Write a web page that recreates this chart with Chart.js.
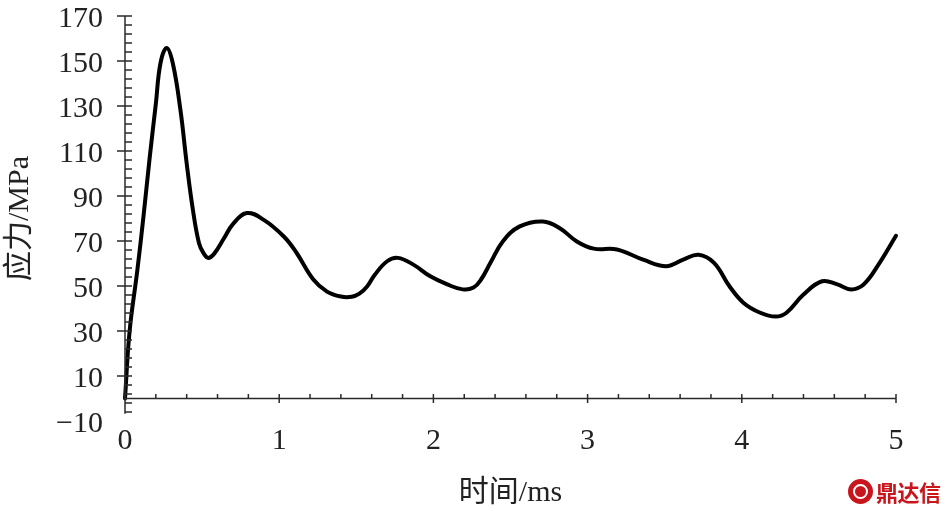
<!DOCTYPE html>
<html>
<head>
<meta charset="utf-8">
<script src="https://cdn.jsdelivr.net/npm/chart.js@4.4.1/dist/chart.umd.min.js"></script>
<style>
  html, body { margin: 0; padding: 0; background: #fff; }
  #wrap { position: relative; width: 950px; height: 511px; }
  #c { position: absolute; left: 0; top: 0; }
  #mark { position: absolute; left: 848px; top: 478px; height: 26px; display: flex; align-items: center; }
  #logo { width: 25px; height: 25px; border-radius: 50%; background: #c9161d; position: relative; margin-right: 3px; }
  #logo::after { content: ""; position: absolute; left: 5px; top: 5px; width: 11px; height: 11px; border: 2px solid #fff; border-radius: 50%; }
  #mtext { font-family: "Noto Sans CJK SC", sans-serif; font-weight: 700; font-size: 22px; color: #c9161d; line-height: 26px; letter-spacing: -0.5px; }
</style>
</head>
<body>
<div id="wrap">
  <canvas id="c" width="950" height="511"></canvas>
  <div id="mark"><div id="logo"></div><span id="mtext">鼎达信</span></div>
</div>
<script>
// ---- data ----
const timeMs = [0, 0.03, 0.08, 0.12, 0.16, 0.2, 0.23, 0.27, 0.31, 0.36, 0.4, 0.44, 0.48, 0.51,
  0.54, 0.58, 0.64, 0.7, 0.79, 0.9, 1.03, 1.11, 1.22, 1.31, 1.4, 1.47, 1.52, 1.57, 1.62, 1.7,
  1.77, 1.87, 1.98, 2.09, 2.19, 2.26, 2.31, 2.37, 2.45, 2.56, 2.71, 2.82, 2.93, 3.04, 3.19,
  3.36, 3.51, 3.62, 3.72, 3.82, 3.92, 4.01, 4.12, 4.22, 4.29, 4.4, 4.52, 4.62, 4.71, 4.79,
  4.88, 5.0];
const stressMPa = [0, 30, 57, 81, 107, 131, 149, 155.8, 149, 128, 104.5, 84, 69, 64.5,
  62.5, 64.5, 71, 77.5, 82.4, 79.4, 72, 65, 53, 47.5, 45.3, 45.2, 46.6, 49.8, 55, 61,
  62.5, 59.5, 54.3, 50.7, 48.5, 49.3, 53, 60.3, 69.8, 76.5, 78.7, 75.7, 69.8, 66.6, 66.2,
  61.7, 58.8, 61.7, 63.9, 60.3, 49.9, 42.6, 38.1, 36.4, 38.1, 46.2, 52.1, 50.7, 48.5, 50.7,
  58.8, 72.3];
const xTickLabels = [0, 1, 2, 3, 4, 5];
const yTickLabels = [-10, 10, 30, 50, 70, 90, 110, 130, 150, 170];
const xTitle = '时间/ms';
const yTitle = '应力/MPa';

const points = timeMs.map((t, i) => ({ x: t, y: stressMPa[i] }));
const axisColor = '#2a2a2a';
const serif = "'Liberation Serif', 'Noto Sans CJK SC', serif";

const axesPlugin = {
  id: 'axesPlugin',
  afterDatasetsDraw(chart) {
    const ctx = chart.ctx;
    const xs = chart.scales.x, ys = chart.scales.y;
    const x0 = xs.getPixelForValue(0), x5 = xs.getPixelForValue(5);
    const y0 = ys.getPixelForValue(0);
    ctx.save();
    ctx.strokeStyle = axisColor;
    ctx.lineWidth = 1.5;
    ctx.beginPath();
    ctx.moveTo(x0, ys.getPixelForValue(170));
    ctx.lineTo(x0, ys.getPixelForValue(-6.8));
    ctx.moveTo(x0, y0);
    ctx.lineTo(x5, y0);
    for (let v = 170; v >= -6; v -= 4) {
      const p = ys.getPixelForValue(v);
      const major = yTickLabels.includes(v);
      ctx.moveTo(major ? x0 - 8 : x0, p);
      ctx.lineTo(x0 + 7, p);
    }
    for (let i = 1; i <= 25; i++) {
      const v = i / 5;
      const p = xs.getPixelForValue(v);
      const major = i % 5 === 0;
      ctx.moveTo(p, y0 - 4.5);
      ctx.lineTo(p, major ? y0 + 4.5 : y0);
    }
    ctx.stroke();
    ctx.restore();
  }
};

new Chart(document.getElementById('c'), {
  type: 'line',
  data: {
    datasets: [{
      data: points,
      borderColor: '#000',
      borderWidth: 4,
      pointRadius: 0,
      fill: false,
      tension: 0.4,
      borderCapStyle: 'round',
      borderJoinStyle: 'round',
      clip: false
    }]
  },
  options: {
    responsive: false,
    animation: false,
    devicePixelRatio: 1,
    layout: { padding: { left: 0, right: 54, top: 16, bottom: 0 } },
    plugins: { legend: { display: false }, tooltip: { enabled: false } },
    scales: {
      x: {
        type: 'linear',
        min: 0, max: 5,
        afterBuildTicks: s => { s.ticks = xTickLabels.map(v => ({ value: v })); },
        afterFit: s => { s.height = 90; s.paddingLeft = 0; s.paddingRight = 0; },
        grid: { display: false, drawTicks: false },
        border: { display: false },
        ticks: { font: { family: serif, size: 30 }, color: '#222', padding: 2, maxRotation: 0, autoSkip: false },
        title: { display: true, text: xTitle, font: { family: serif, size: 30 }, color: '#222', padding: { top: 0, bottom: 0 } }
      },
      y: {
        type: 'linear',
        min: -10, max: 170,
        afterBuildTicks: s => { s.ticks = yTickLabels.map(v => ({ value: v })); },
        afterFit: s => { s.width = 125; s.paddingTop = 0; s.paddingBottom = 0; },
        grid: { display: false, drawTicks: false },
        border: { display: false },
        ticks: {
          font: { family: serif, size: 30 }, color: '#222', padding: 22, labelOffset: 3, autoSkip: false,
          callback: v => (v < 0 ? '\u2212' + Math.abs(v) : String(v))
        },
        title: { display: true, text: yTitle, font: { family: serif, size: 30 }, color: '#222', padding: { top: 2, bottom: 0 } }
      }
    }
  },
  plugins: [axesPlugin]
});
</script>
</body>
</html>
